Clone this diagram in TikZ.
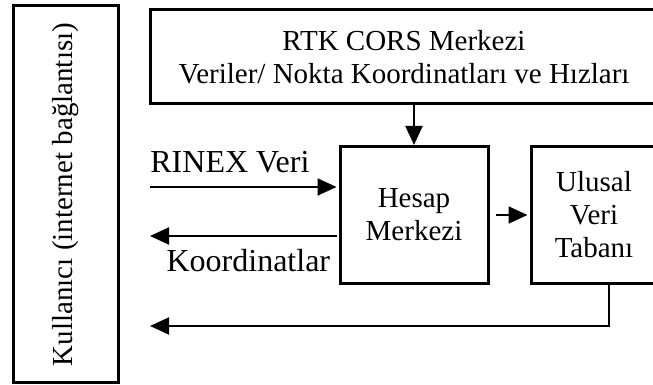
\documentclass[tikz,border=0pt]{standalone}
\usepackage{fontspec}
\setmainfont{Liberation Serif}
\usetikzlibrary{arrows.meta,positioning}

\begin{document}
\begin{tikzpicture}[
		x=0.5pt, y=0.5pt,
		>={Triangle[length=9.5pt,width=8.5pt]},
		every node/.style = {font=\fontsize{14.5}{16.5}\selectfont},
		block/.style = {draw, line width=1.5pt, align=center, inner sep=0pt},
		lbl/.style = {inner sep=0pt, font=\fontsize{16}{18}\selectfont},
		flow/.style = {->, line width=1pt}
		]
		\clip (0,0) rectangle (653,385);
		
		% Boxes ---------------------------------------------------------
		\node[block, minimum width=52.5pt, minimum height=188.5pt] (user) at (65.5,190.5)
		{\rotatebox{90}{Kullanıcı (internet bağlantısı)}};
		\node[block, minimum width=254pt, minimum height=47pt] (cors) at (404,328)
		{RTK CORS Merkezi\\Veriler/ Nokta Koordinatları ve Hızları};
		\node[block, minimum width=74pt, minimum height=68.5pt] (hesap) at (414,170)
		{Hesap\\Merkezi};
		\node[block, minimum width=63pt, minimum height=68.5pt] (ulusal) at (594,170)
		{Ulusal\\Veri\\Tabanı};
		
		% Free ends at the user side ------------------------------------
		\coordinate (rinexin)  at (150,198);
		\coordinate (koordout) at (150,149);
		\coordinate (dbout)    at (150,59);
		
		% Labels --------------------------------------------------------
		\node[lbl, anchor=base west] (rinexlbl) at ([yshift=7pt]rinexin) {RINEX Veri};
		\node[lbl, anchor=base east] (koordlbl) at ([xshift=-4pt,yshift=-18pt]hesap.west |- koordout) {Koordinatlar};
		
		% Arrows --------------------------------------------------------
		\draw[flow] (hesap.north |- cors.south) -- (hesap.north);
		\draw[flow, shorten >=1pt] (rinexin) -- (rinexin -| hesap.west);
		\draw[flow, shorten <=1pt] (koordout -| hesap.west) -- (koordout);
		\draw[flow, shorten <=3pt, shorten >=1pt] (hesap) -- (ulusal);
		\draw[flow] ([xshift=7.5pt]ulusal.south) |- (dbout);  % back to the user
\end{tikzpicture}
\end{document}
